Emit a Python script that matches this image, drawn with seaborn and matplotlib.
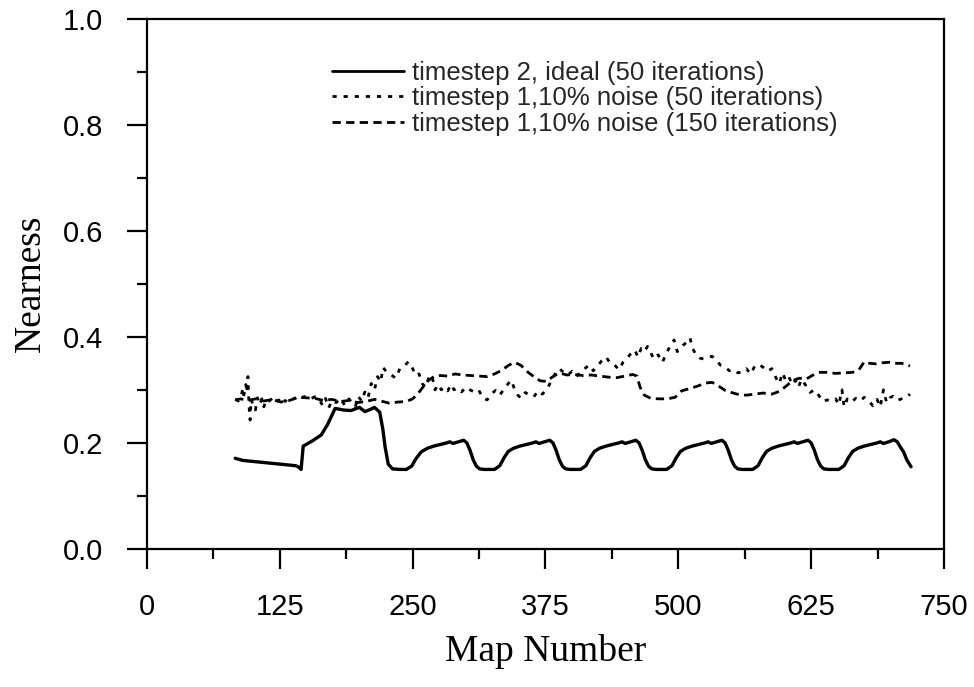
import matplotlib
matplotlib.use("Agg")
import matplotlib.pyplot as plt
import seaborn as sns
import pandas as pd

# ---------------- data ----------------
ideal_x = [83, 90, 100, 110, 120, 130, 140, 143, 145, 147, 155, 164, 170, 177, 185, 192, 200, 205,
           210, 214, 219, 222, 224, 227,
           231, 238, 244, 249, 253, 258, 264, 270, 276, 282, 285, 288, 293, 298, 301, 304, 307, 310, 313, 317,
           320, 327, 332, 336, 340, 345, 351, 357, 363, 366, 369, 374, 379, 382, 385, 388, 391, 394, 398,
           401, 408, 413, 417, 421, 426, 432, 438, 444, 447, 450, 455, 460, 463, 466, 469, 472, 475, 479,
           482, 489, 494, 498, 502, 507, 513, 519, 525, 528, 531, 536, 541, 544, 547, 550, 553, 556, 560,
           563, 570, 575, 579, 583, 588, 594, 600, 606, 609, 612, 617, 622, 625, 628, 631, 634, 637, 641,
           644, 651, 656, 660, 664, 669, 675, 681, 687, 690, 693, 698, 703, 706, 709, 712, 715, 719]
ideal_y = [0.171, 0.167, 0.165, 0.163, 0.161, 0.159, 0.157, 0.154, 0.150, 0.194, 0.203, 0.215, 0.235, 0.265,
           0.262, 0.261, 0.267, 0.259, 0.263, 0.267, 0.258, 0.225, 0.193, 0.160,
           0.151, 0.150, 0.150, 0.156, 0.170, 0.183, 0.190, 0.194, 0.197, 0.200, 0.202, 0.199, 0.202, 0.205,
           0.200, 0.186, 0.168, 0.156, 0.151, 0.150,
           0.150, 0.150, 0.157, 0.172, 0.184, 0.190, 0.194, 0.197, 0.200, 0.202, 0.199, 0.202, 0.205, 0.200,
           0.186, 0.168, 0.156, 0.151, 0.150,
           0.150, 0.150, 0.157, 0.172, 0.184, 0.190, 0.194, 0.197, 0.200, 0.202, 0.199, 0.202, 0.205, 0.200,
           0.186, 0.168, 0.156, 0.151, 0.150,
           0.150, 0.150, 0.157, 0.172, 0.184, 0.190, 0.194, 0.197, 0.200, 0.202, 0.199, 0.202, 0.205, 0.200,
           0.186, 0.168, 0.156, 0.151, 0.150,
           0.150, 0.150, 0.157, 0.172, 0.184, 0.190, 0.194, 0.197, 0.200, 0.202, 0.199, 0.202, 0.205, 0.200,
           0.186, 0.168, 0.156, 0.151, 0.150,
           0.150, 0.150, 0.157, 0.172, 0.184, 0.190, 0.194, 0.197, 0.200, 0.202, 0.199, 0.202, 0.206, 0.202,
           0.192, 0.183, 0.168, 0.155]

noise50_x = [83, 86, 88, 90, 91, 93, 94, 95, 96, 97, 98, 100, 102, 104, 106, 108, 110, 112, 115, 118, 121,
             124, 127, 130, 133, 136, 140, 143, 146, 150, 154, 158, 162, 165, 168, 171, 174, 178, 182, 186,
             190, 193, 196, 199, 202, 205, 208, 211, 214, 217, 220, 222, 226, 230, 234, 238, 242, 246, 250,
             253, 256, 259, 262, 265, 268, 271, 274, 277, 280, 283, 286, 289, 292, 296, 300, 304, 308, 312,
             316, 320, 324, 328, 332, 336, 340, 343, 346, 349, 352, 356, 360, 364, 368, 372, 376, 380, 384,
             388, 392, 396, 400, 404, 408, 412, 416, 420, 424, 428, 432, 436, 440, 444, 448, 452, 456, 459,
             462, 465, 468, 471, 474, 477, 481, 485, 489, 493, 496, 499, 502, 505, 508, 511, 513, 516, 520,
             524, 528, 532, 536, 540, 544, 548, 552, 556, 560, 564, 568, 572, 576, 580, 584, 588, 592, 595,
             598, 601, 604, 607, 610, 613, 616, 620, 624, 628, 632, 636, 640, 644, 648, 651, 654, 656, 659,
             663, 667, 671, 675, 679, 683, 687, 690, 693, 696, 699, 702, 706, 710, 714, 718]
noise50_y = [0.282, 0.279, 0.285, 0.300, 0.288, 0.310, 0.295, 0.325, 0.270, 0.243, 0.282, 0.270, 0.262,
             0.285, 0.272, 0.283, 0.268, 0.281, 0.279, 0.284, 0.276, 0.281, 0.273, 0.280, 0.276, 0.281,
             0.285, 0.290, 0.286, 0.288, 0.283, 0.287, 0.283, 0.271, 0.284, 0.266, 0.280, 0.276, 0.284,
             0.271, 0.283, 0.276, 0.268, 0.287, 0.279, 0.296, 0.285, 0.312, 0.300, 0.325, 0.315, 0.342,
             0.333, 0.328, 0.322, 0.340, 0.345, 0.353, 0.340, 0.327, 0.330, 0.312, 0.305, 0.322, 0.328,
             0.300, 0.310, 0.300, 0.305, 0.298, 0.310, 0.300, 0.303, 0.296, 0.305, 0.300, 0.296, 0.300,
             0.285, 0.281, 0.292, 0.299, 0.290, 0.302, 0.312, 0.318, 0.300, 0.290, 0.284, 0.295, 0.290,
             0.287, 0.298, 0.292, 0.300, 0.315, 0.330, 0.340, 0.333, 0.328, 0.335, 0.325, 0.333, 0.340,
             0.347, 0.336, 0.345, 0.355, 0.362, 0.350, 0.347, 0.338, 0.352, 0.360, 0.370, 0.375, 0.362,
             0.378, 0.372, 0.382, 0.370, 0.358, 0.366, 0.352, 0.370, 0.385, 0.394, 0.372, 0.378, 0.385,
             0.390, 0.398, 0.380, 0.368, 0.360, 0.358, 0.362, 0.363, 0.355, 0.346, 0.343, 0.336, 0.338,
             0.332, 0.334, 0.340, 0.330, 0.345, 0.348, 0.342, 0.335, 0.340, 0.322, 0.312, 0.332, 0.318,
             0.325, 0.310, 0.318, 0.305, 0.320, 0.308, 0.295, 0.300, 0.290, 0.278, 0.281, 0.279, 0.283,
             0.272, 0.300, 0.268, 0.283, 0.277, 0.284, 0.279, 0.286, 0.280, 0.270, 0.282, 0.268, 0.300,
             0.276, 0.285, 0.288, 0.280, 0.283, 0.285, 0.292]

noise150_x = [83, 88, 95, 102, 110, 118, 126, 134, 142, 150, 158, 166, 174, 182, 190, 198, 206, 214, 220,
              228, 236, 244, 250, 255, 260, 265, 270, 276, 283, 290, 297, 305, 312, 320, 327, 334, 340, 346,
              352, 358, 364, 370, 376, 382, 388, 395, 402, 410, 418, 426, 434, 442, 450, 457, 461, 464, 468,
              474, 482, 490, 497, 503, 510, 518, 526, 532, 538, 544, 550, 557, 564, 572, 580, 588, 595, 602,
              608, 614, 620, 626, 632, 640, 648, 656, 664, 670, 675, 680, 686, 692, 698, 704, 710, 715, 718]
noise150_y = [0.281, 0.283, 0.280, 0.283, 0.279, 0.282, 0.277, 0.280, 0.286, 0.285, 0.284, 0.280, 0.282,
              0.278, 0.280, 0.276, 0.278, 0.282, 0.279, 0.275, 0.277, 0.278, 0.283, 0.293, 0.306, 0.318,
              0.325, 0.327, 0.326, 0.330, 0.328, 0.327, 0.326, 0.325, 0.330, 0.337, 0.346, 0.352, 0.346,
              0.334, 0.325, 0.317, 0.316, 0.325, 0.332, 0.328, 0.329, 0.327, 0.328, 0.326, 0.324, 0.323,
              0.326, 0.329, 0.326, 0.305, 0.290, 0.284, 0.283, 0.283, 0.286, 0.298, 0.302, 0.307, 0.313,
              0.314, 0.307, 0.299, 0.295, 0.291, 0.290, 0.292, 0.294, 0.292, 0.297, 0.308, 0.318, 0.322,
              0.320, 0.327, 0.333, 0.333, 0.331, 0.332, 0.333, 0.338, 0.353, 0.350, 0.349, 0.351, 0.352,
              0.350, 0.350, 0.347, 0.345]

labels = ["timestep 2, ideal (50 iterations)",
          "timestep 1,10% noise (50 iterations)",
          "timestep 1,10% noise (150 iterations)"]
x_ticks = [0, 125, 250, 375, 500, 625, 750]
y_ticks = [0.0, 0.2, 0.4, 0.6, 0.8, 1.0]

# ---------------- style ----------------
sns.set_theme(style="ticks")
plt.rcParams["font.family"] = ["Liberation Sans", "DejaVu Sans"]
plt.rcParams["lines.scale_dashes"] = False

fig = plt.figure(figsize=(9.74, 6.87), dpi=100)
ax = fig.add_axes([147 / 974, 1 - 549 / 687, 797 / 974, 530.5 / 687])

df_ideal = pd.DataFrame({"x": ideal_x, "y": ideal_y})
df_n50 = pd.DataFrame({"x": noise50_x, "y": noise50_y})
df_n150 = pd.DataFrame({"x": noise150_x, "y": noise150_y})

sns.lineplot(data=df_ideal, x="x", y="y", ax=ax, color="black", lw=2.4, sort=False,
             estimator=None, label=labels[0], solid_joinstyle="round")
sns.lineplot(data=df_n50, x="x", y="y", ax=ax, color="black", lw=2.0, sort=False,
             estimator=None, label=labels[1], linestyle=(0, (3, 5)))
sns.lineplot(data=df_n150, x="x", y="y", ax=ax, color="black", lw=2.0, sort=False,
             estimator=None, label=labels[2], linestyle=(0, (6, 3.8)))

ax.set_xlim(0, 750)
ax.set_ylim(0, 1.0)
ax.set_xticks(x_ticks)
ax.set_xticklabels([str(t) for t in x_ticks])
ax.set_yticks(y_ticks)
ax.set_yticklabels([f"{t:.1f}" for t in y_ticks])
ax.set_xticks([62.5 + 125 * i for i in range(6)], minor=True)
ax.set_yticks([0.1, 0.3, 0.5, 0.7, 0.9], minor=True)

for s in ax.spines.values():
    s.set_visible(True)
    s.set_linewidth(1.6)
    s.set_color("black")

ax.tick_params(axis="both", which="major", direction="out", length=14.5, width=1.6,
               colors="black", labelsize=21)
ax.tick_params(axis="x", which="major", pad=17)
ax.tick_params(axis="y", which="major", pad=17)
ax.tick_params(axis="both", which="minor", direction="out", length=7.5, width=1.6, colors="black")

ax.set_xlabel("Map Number", fontsize=27, family=["Liberation Serif"], color="black")
ax.set_ylabel("Nearness", fontsize=27, family=["Liberation Serif"], color="black")
ax.xaxis.set_label_coords(0.5, -0.16)
ax.yaxis.set_label_coords(-0.125, 0.5)

leg = ax.legend(loc="upper left", bbox_to_anchor=(0.232, 0.92), frameon=False,
                fontsize=18.5, handlelength=2.8, handletextpad=0.3, labelspacing=0.05,
                borderpad=0, borderaxespad=0)
for line in leg.get_lines():
    line.set_linewidth(2.0)

fig.savefig("out.png", dpi=100)
